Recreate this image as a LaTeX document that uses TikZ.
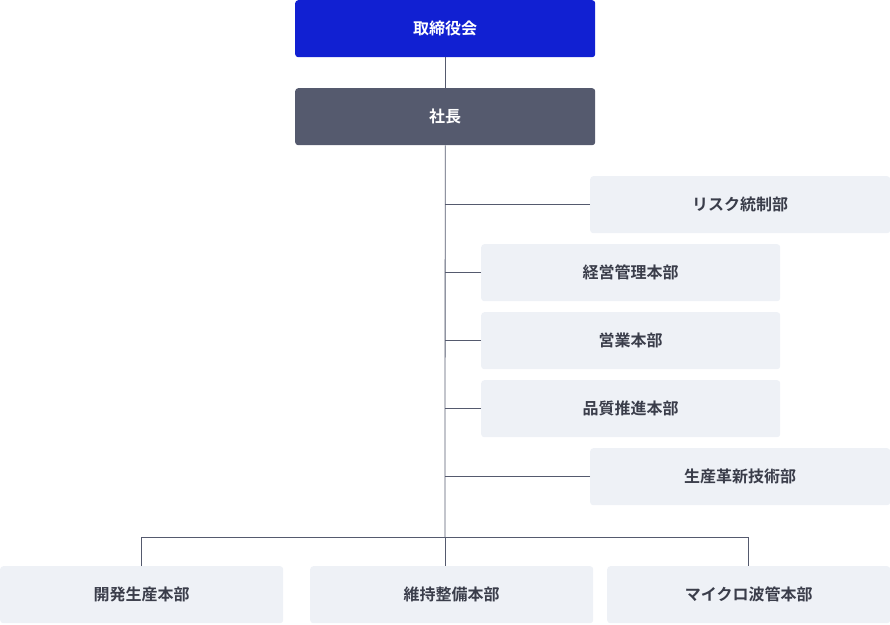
\documentclass[tikz,border=0pt]{standalone}
\usepackage{fontspec}
\setmainfont{Noto Sans CJK JP}[BoldFont={* Bold}]
\definecolor{board}{HTML}{1120D2}
\definecolor{pres}{HTML}{555A6E}
\definecolor{light}{HTML}{EEF1F6}
\definecolor{txt}{HTML}{3A3D4A}
\definecolor{line}{HTML}{555A6E}
\begin{document}
\begin{tikzpicture}[x=1pt,y=-1pt,
  box/.style={anchor=north west,inner sep=0,rounded corners=3pt,minimum height=57pt,font=\fontsize{16}{18}\selectfont\bfseries,text=txt,fill=light},
  wide/.style={box,minimum width=300pt},
  mid/.style={box,minimum width=299pt},
  low/.style={box,minimum width=283pt},
  conn/.style={line,line width=0.8pt}]
\useasboundingbox (0,0) rectangle (890,624);
\node[wide,fill=board,text=white] (b) at (295,0) {取締役会};
\node[wide,fill=pres,text=white] (p) at (295,88) {社長};
\node[wide] (r) at (590,176) {リスク統制部};
\node[mid] (k) at (481,244) {経営管理本部};
\node[mid] (e) at (481,312) {営業本部};
\node[mid] (h) at (481,380) {品質推進本部};
\node[wide] (s) at (590,448) {生産革新技術部};
\node[low] (d1) at (0,566) {開発生産本部};
\node[low] (d2) at (310,566) {維持整備本部};
\node[low] (d3) at (607,566) {マイクロ波管本部};
\coordinate (t) at (445,537);
\draw[conn] (b.south) -- (p.north);
\draw[conn] (p.south) -- (t);
\foreach \n in {r,k,e,h,s} \draw[conn] (\n.west) -- (445,0 |- \n.west);
\draw[conn] (d1.north) -- (d1.north |- t) -- (d3.north |- t) -- (d3.north);
\draw[conn] (t) -- (d2.north -| t);
\end{tikzpicture}
\end{document}
